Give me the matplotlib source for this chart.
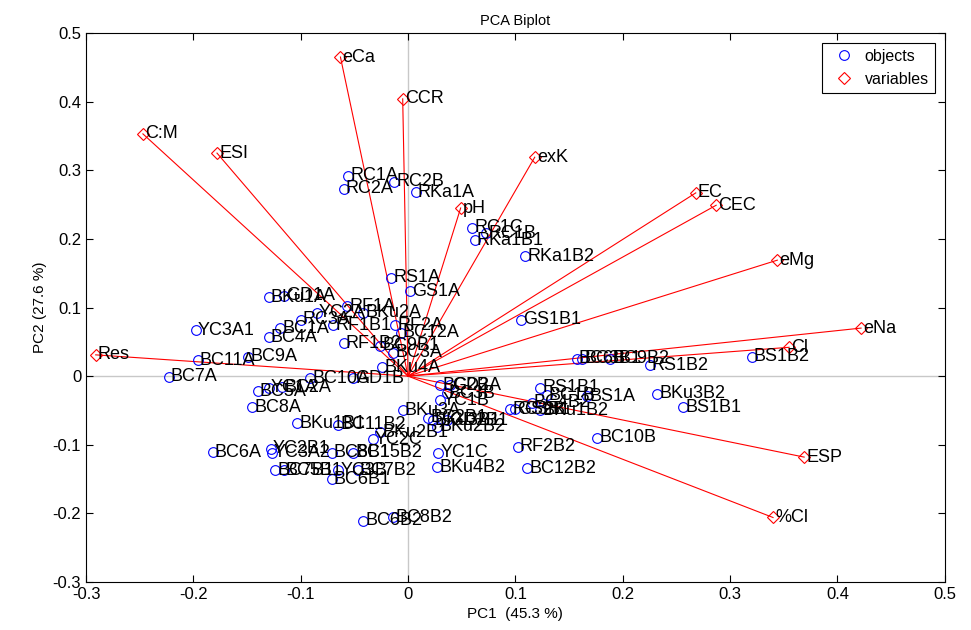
import matplotlib
matplotlib.use("Agg")
import matplotlib.pyplot as plt

plt.rcParams['font.family'] = ['Liberation Sans', 'DejaVu Sans']

# objects (scores)
obj_names = ["RC1A", "RC2B", "RC2A", "RKa1A", "RC1C", "RC1B", "RKa1B1", "RKa1B2",
             "RS1A", "GS1A", "BKu1A", "GD1A", "RF1A", "YC2A", "BKu2A", "RC3A",
             "RF1B1", "RF2A", "BC12A", "BC1A", "BC4A", "YC3A1", "GS1B1", "RF1B2",
             "BC9B1", "BC3A", "BKu4A", "BC11A", "BC9A", "BC7A", "BC10A", "GD1B",
             "BC5A", "YC1A", "BC2A", "BC8A", "BKu1B1", "BC11B2", "BKu2B1", "YC2C",
             "BC6A", "YC2B1", "YC3A2", "BC8B1", "BC15B2", "BC7B1", "BC5B1", "YC3B",
             "BC7B2", "BC6B1", "BC6B2", "BC8B2", "YC1C", "BKu4B2", "BC2B", "GD2A",
             "BC3B", "YC1B", "BKu3A", "BC2B1", "BKu3B1", "GD2B1", "BKu2B2", "RC3B1",
             "GS2B", "BKu1B2", "BC4B2", "RS1B1", "BC1B", "BS1A", "BKu3B2", "BS1B1",
             "BC10B", "RF2B2", "BC12B2", "BC6B", "BC3B1", "BC9B2", "RS1B2", "BS1B2"]
obj_x = [-0.056, -0.013, -0.060, 0.007, 0.060, 0.073, 0.062, 0.109,
         -0.016, 0.002, -0.130, -0.116, -0.057, -0.085, -0.042, -0.100,
         -0.070, -0.012, -0.007, -0.119, -0.130, -0.198, 0.105, -0.060,
         -0.026, -0.014, -0.024, -0.196, -0.149, -0.223, -0.091, -0.051,
         -0.140, -0.130, -0.117, -0.145, -0.103, -0.065, -0.026, -0.033,
         -0.182, -0.128, -0.127, -0.071, -0.051, -0.124, -0.116, -0.065,
         -0.047, -0.071, -0.042, -0.014, 0.028, 0.027, 0.030, 0.039,
         0.036, 0.030, -0.005, 0.019, 0.023, 0.036, 0.027, 0.095,
         0.100, 0.123, 0.115, 0.123, 0.129, 0.167, 0.232, 0.256,
         0.176, 0.102, 0.111, 0.157, 0.162, 0.188, 0.225, 0.320]
obj_y = [0.292, 0.283, 0.273, 0.268, 0.216, 0.208, 0.198, 0.175,
         0.143, 0.124, 0.115, 0.117, 0.102, 0.092, 0.092, 0.082,
         0.074, 0.074, 0.063, 0.070, 0.057, 0.067, 0.082, 0.048,
         0.044, 0.034, 0.013, 0.023, 0.028, -0.001, -0.003, -0.003,
         -0.022, -0.017, -0.016, -0.045, -0.069, -0.071, -0.082, -0.092,
         -0.111, -0.106, -0.112, -0.112, -0.112, -0.137, -0.137, -0.137,
         -0.137, -0.150, -0.211, -0.206, -0.112, -0.133, -0.013, -0.013,
         -0.025, -0.035, -0.050, -0.061, -0.064, -0.064, -0.074, -0.048,
         -0.048, -0.050, -0.039, -0.017, -0.028, -0.029, -0.026, -0.045,
         -0.090, -0.103, -0.134, 0.025, 0.025, 0.025, 0.016, 0.028]

# variables (loadings)
var_names = ["eCa", "CCR", "C:M", "ESI", "exK", "pH", "EC", "CEC",
             "eMg", "eNa", "Cl", "Res", "ESP", "%Cl"]
var_x = [-0.063, -0.005, -0.247, -0.178, 0.118, 0.049, 0.268, 0.287,
         0.344, 0.422, 0.355, -0.291, 0.369, 0.340]
var_y = [0.465, 0.404, 0.353, 0.325, 0.319, 0.245, 0.267, 0.249,
         0.169, 0.070, 0.042, 0.031, -0.118, -0.206]

fig = plt.figure(figsize=(9.71, 6.30), dpi=100)
ax = fig.add_axes([0.0886, 0.0762, 0.8844, 0.8714])

ax.axhline(0, color='#c8c8c8', lw=1, zorder=0)
ax.axvline(0, color='#c8c8c8', lw=1, zorder=0)

for vx, vy in zip(var_x, var_y):
    ax.plot([0, vx], [0, vy], color='red', lw=0.8, zorder=1)

ax.plot(obj_x, obj_y, 'o', mfc='none', mec='blue', ms=7, mew=0.8,
        label='objects', zorder=2)
ax.plot(var_x, var_y, 'D', mfc='none', mec='red', ms=6, mew=0.8,
        label='variables', zorder=2)

fs = 13
for n, x, y in zip(obj_names, obj_x, obj_y):
    ax.text(x + 0.002, y, n, fontsize=fs, va='center', ha='left', zorder=3)
for n, x, y in zip(var_names, var_x, var_y):
    ax.text(x + 0.002, y, n, fontsize=fs, va='center', ha='left', zorder=3)

ticks = [-0.3, -0.2, -0.1, 0, 0.1, 0.2, 0.3, 0.4, 0.5]
tick_labels = ["-0.3", "-0.2", "-0.1", "0", "0.1", "0.2", "0.3", "0.4", "0.5"]
ax.set_xlim(-0.3, 0.5)
ax.set_ylim(-0.3, 0.5)
ax.set_xticks(ticks)
ax.set_xticklabels(tick_labels)
ax.set_yticks(ticks)
ax.set_yticklabels(tick_labels)
ax.tick_params(direction='in', top=True, right=True, labelsize=12, length=5)

ax.set_title("PCA Biplot", fontsize=10.5)
ax.set_xlabel("PC1  (45.3 %)", fontsize=11)
ax.set_ylabel("PC2 (27.6 %)", fontsize=11)

leg = ax.legend(loc='upper right', fontsize=11.5, fancybox=False, framealpha=1,
                edgecolor='black', borderaxespad=0.6, handletextpad=0.3)
leg.get_frame().set_linewidth(0.8)

fig.savefig("out.png", dpi=100)
